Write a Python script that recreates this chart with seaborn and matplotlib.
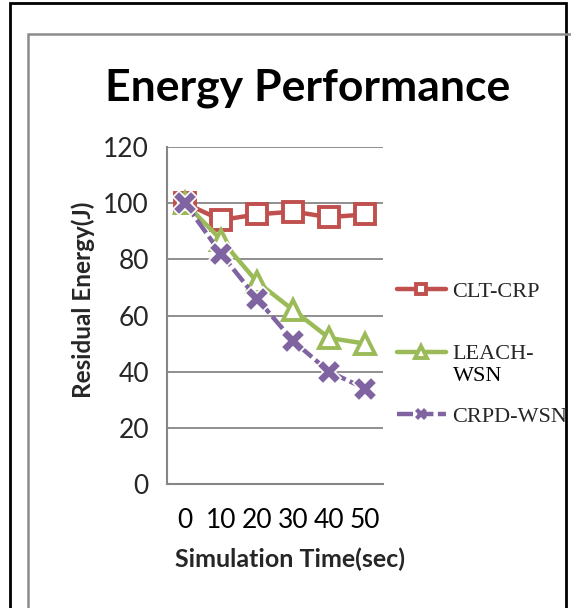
import matplotlib
matplotlib.use("Agg")
import matplotlib.pyplot as plt
import seaborn as sns
import pandas as pd
import numpy as np
from matplotlib.patches import Rectangle
from matplotlib.lines import Line2D

# ---- data ----
time_labels = ["0", "10", "20", "30", "40", "50"]
clt_crp = [100, 94, 96, 97, 95, 96]
leach_wsn = [100, 87, 72, 62, 52, 50]
crpd_wsn = [100, 82, 66, 51, 40, 34]
series_names = ["CLT-CRP", "LEACH-WSN", "CRPD-WSN"]
legend_lines = [["CLT-CRP"], ["LEACH-", "WSN"], ["CRPD-WSN"]]

sns.set_theme(style="white")
plt.rcParams['font.family'] = ['Lato', 'DejaVu Sans']

fig = plt.figure(figsize=(5.71, 6.08), dpi=100)
ax = fig.add_axes([167/571, 1-484/608, (383-167)/571, (484-147)/608])

pos = np.arange(len(time_labels))
df = pd.DataFrame({
    "pos": np.tile(pos, 3),
    "val": clt_crp + leach_wsn + crpd_wsn,
    "series": np.repeat(series_names, len(time_labels)),
})

red, green, purple = "#C0504D", "#9BBB59", "#8064A2"
gray = "#868686"

styles = [
    dict(color=red, marker="s", markersize=14, markerfacecolor="white",
         markeredgecolor=red, markeredgewidth=2.8, linewidth=3.2),
    dict(color=green, marker="^", markersize=15, markerfacecolor="white",
         markeredgecolor=green, markeredgewidth=2.8, linewidth=3.2),
    dict(color=purple, marker="X", markersize=17, markerfacecolor=purple,
         markeredgecolor="white", markeredgewidth=1.2, linewidth=3.2,
         dashes=(3.6, 1.0)),
]

for name, st in zip(series_names, styles):
    sub = df[df["series"] == name]
    sns.lineplot(data=sub, x="pos", y="val", ax=ax, legend=False,
                 zorder=3, clip_on=False, **st)

ax.set_xlim(-0.5, len(time_labels) - 0.5)
ax.set_ylim(0, 120)
ax.set_yticks(np.arange(0, 121, 20))
ax.set_xticks(pos)
ax.set_xticklabels(time_labels)
ax.set_xticks(np.arange(-0.5, len(time_labels), 1), minor=True)
ax.tick_params(axis="x", which="major", length=0, pad=17, labelsize=19, colors="black")
ax.tick_params(axis="x", which="minor", length=8, width=1.5, color=gray, direction="out")
ax.tick_params(axis="y", length=7, width=1.5, color=gray, direction="out", labelsize=19, pad=6)
ax.grid(axis="y", color=gray, linewidth=1.3)
ax.set_axisbelow(True)
for s in ["top", "right"]:
    ax.spines[s].set_visible(False)
for s in ["left", "bottom"]:
    ax.spines[s].set_color(gray)
    ax.spines[s].set_linewidth(1.5)

ax.set_xlabel("Simulation Time(sec)", fontsize=18, fontweight="bold")
ax.set_ylabel("Residual Energy(J)", fontsize=17.5, fontweight="bold")
ax.xaxis.set_label_coords(0.569, -0.188)
ax.yaxis.set_label_coords(-0.335, 0.546)

fig.text(308/571, 1-88/608, "Energy Performance", ha="center", va="center",
         fontsize=32, fontweight="bold", color="black")

# legend (first line of each label in the legend; continuation lines below)
handles = []
for st in styles:
    st2 = dict(st)
    st2["markersize"] = st["markersize"] * 0.55
    if st2["marker"] == "X":
        st2["markeredgewidth"] = 0
    handles.append(Line2D([0], [0], **st2))
leg = fig.legend(handles, [l[0] for l in legend_lines], loc="upper left",
                 bbox_to_anchor=(397/571, 1-281/608), frameon=False,
                 prop={"family": "Liberation Serif", "size": 16},
                 handlelength=2.2, handletextpad=0.3, labelspacing=1.9,
                 borderaxespad=0, borderpad=0.0)
fig.canvas.draw()
inv = fig.transFigure.inverted()
for txt, lines in zip(leg.get_texts(), legend_lines):
    if len(lines) > 1:
        bb = txt.get_window_extent()
        x0, y0 = inv.transform((bb.x0, bb.y0))
        fig.text(x0, y0 - 3/608, "\n".join(lines[1:]), ha="left", va="top",
                 family="Liberation Serif", fontsize=16, color="black")

# frames
fig.patches.append(Rectangle((10/571, -0.1), (566-10)/571, 1.1 - 3/608,
                             transform=fig.transFigure, fill=False,
                             edgecolor="black", linewidth=2.0, zorder=0))
fig.patches.append(Rectangle((28/571, -0.1), 1.2, 1.1 - 34/608,
                             transform=fig.transFigure, fill=False,
                             edgecolor="#8c8c8c", linewidth=1.8, zorder=0))

fig.savefig("out.png", dpi=100)
